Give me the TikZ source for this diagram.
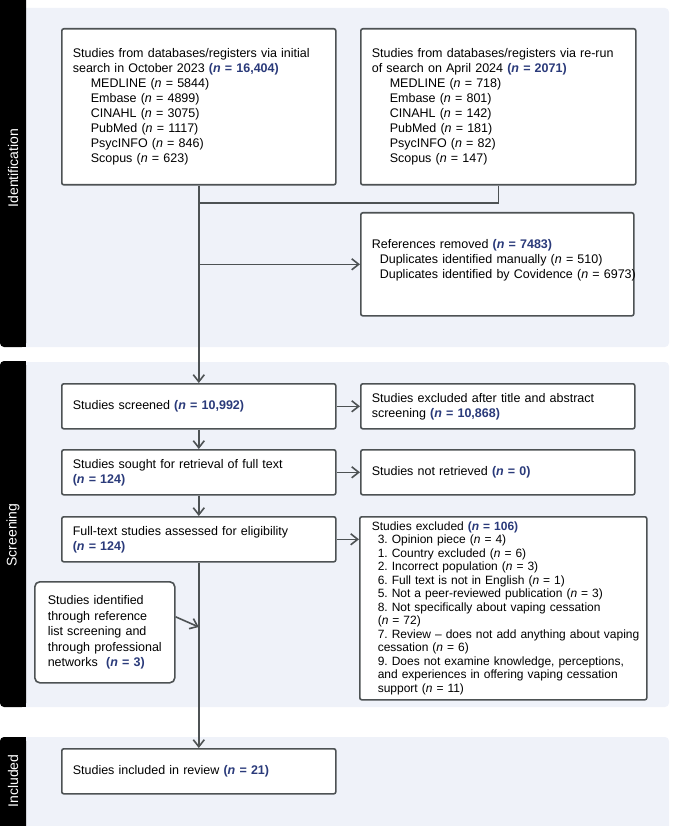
\documentclass[tikz,border=0pt]{standalone}
\usepackage{fontspec}
\setmainfont{Liberation Sans}
\usetikzlibrary{arrows.meta,calc}
\definecolor{panelbg}{RGB}{239,242,249}
\definecolor{edgec}{RGB}{77,82,84}
\definecolor{navy}{RGB}{42,58,122}
\newcommand{\nval}[1]{\textcolor{navy}{\textbf{(\textit{n} = #1)}}}
\newcommand{\nreg}[1]{(\textit{n} = #1)}
\newcommand{\indA}{\hspace*{18pt}}
\newcommand{\indB}{\hspace*{8pt}}
\newcommand{\indC}{\hspace*{6pt}}
\frenchspacing
\begin{document}
\begin{tikzpicture}[x=1pt,y=-1pt,
  box/.style={draw=edgec, line width=1.6pt, rounded corners=2pt, fill=white,
    anchor=north west, inner xsep=0pt, inner ysep=2pt,
    font=\fontsize{12.5}{15}\selectfont\frenchspacing, align=left,
    execute at begin node={\leftskip=11pt}},
  sz/.style 2 args={text width=#1, minimum width=#1, minimum height=#2},
  conn/.style={draw=edgec, line width=1.6pt},
  arr/.style={conn, -{Straight Barb[length=7pt,width=11pt,line width=1.6pt]}},
  sidelab/.style={rotate=90, text=white, font=\fontsize{14}{16}\selectfont}
]
\useasboundingbox (0,0) rectangle (672,826);
% panels
\fill[panelbg, rounded corners=4pt] (18,8) rectangle (669,347);
\fill[panelbg, rounded corners=4pt] (18,362) rectangle (669,707);
\fill[panelbg, rounded corners=4pt] (18,737) rectangle (669,840);
\fill[black, rounded corners=4pt] (0,-10) rectangle (26,347);
\fill[black] (14,-10) rectangle (26,347);
\fill[black, rounded corners=4pt] (0,361) rectangle (26,707);
\fill[black] (14,361) rectangle (26,707);
\fill[black, rounded corners=4pt] (0,737) rectangle (26,840);
\fill[black] (14,737) rectangle (26,840);
\node[sidelab] (labid) at (13,168) {Identification};
\node[sidelab] (labsc) at (13,535) {Screening};
\node[sidelab] (labin) at (13,781) {Included};

% boxes
\node[box, sz={274pt}{156pt}] (id1) at (61,28) {Studies from databases/registers via initial\\
search in October 2023 \nval{16,404}\\
\indA MEDLINE \nreg{5844}\\
\indA Embase \nreg{4899}\\
\indA CINAHL \nreg{3075}\\
\indA PubMed \nreg{1117}\\
\indA PsycINFO \nreg{846}\\
\indA Scopus \nreg{623}};

\node[box, sz={275pt}{156pt}] (id2) at (360,28) {\mbox{Studies from databases/registers via re-run}\\
of search on April 2024 \nval{2071}\\
\indA MEDLINE \nreg{718}\\
\indA Embase \nreg{801}\\
\indA CINAHL \nreg{142}\\
\indA PubMed \nreg{181}\\
\indA PsycINFO \nreg{82}\\
\indA Scopus \nreg{147}};

\node[box, sz={273pt}{103pt}] (refs) at (360,212) {References removed \nval{7483}\\
\indB Duplicates identified manually \nreg{510}\\
\indB \mbox{Duplicates identified by Covidence \nreg{6973}}\\[-4pt]\mbox{}};

\node[box, sz={274pt}{45pt}] (screened) at (61,383) {Studies screened \nval{10,992}};
\node[box, sz={274pt}{45pt}] (exclta) at (360,383) {Studies excluded after title and abstract\\
screening \nval{10,868}};
\node[box, sz={274pt}{45pt}] (sought) at (61,449) {Studies sought for retrieval of full text\\
\nval{124}};
\node[box, sz={274pt}{45pt}] (notret) at (360,449) {Studies not retrieved \nval{0}};
\node[box, sz={274pt}{45pt}] (fulltext) at (61,516) {Full-text studies assessed for eligibility\\
\nval{124}};

\node[box, sz={287pt}{183pt}, font=\fontsize{12}{13.5}\selectfont\frenchspacing,
  execute at begin node={\leftskip=12pt}] (excl) at (359,516) {Studies excluded \nval{106}\\
\indC 3. Opinion piece \nreg{4}\\
\indC 1. Country excluded \nreg{6}\\
\indC 2. Incorrect population \nreg{3}\\
\indC 6. Full text is not in English \nreg{1}\\
\indC 5. Not a peer-reviewed publication \nreg{3}\\
\indC 8. Not specifically about vaping cessation\\
\indC \nreg{72}\\
\indC \mbox{7. Review – does not add anything about vaping}\\
\indC cessation \nreg{6}\\
\indC \mbox{9. Does not examine knowledge, perceptions,}\\
\indC \mbox{and experiences in offering vaping cessation}\\
\indC support \nreg{11}};

\node[box, sz={140pt}{101pt}, rounded corners=5pt, font=\fontsize{12.5}{15.5}\selectfont,
  execute at begin node={\leftskip=13pt}] (other) at (34,581) {Studies identified\\
through reference\\
list screening and\\
through professional\\
networks~ \nval{3}};

\node[box, sz={274pt}{45pt}] (incl) at (61,748) {Studies included in review \nval{21}};

% connectors
\coordinate (yj) at (0,203);
\coordinate (yo) at (0,627);
\draw[conn] (id2.south) -- (id2.south |- yj) -- (id1.south |- yj);
\draw[arr] (id1.south) -- (screened.north);
\draw[arr] (id1.south |- refs.west) -- (refs.west);
\draw[arr] (screened.east) -- (exclta.west);
\draw[arr] (screened.south) -- (sought.north);
\draw[arr] (sought.east) -- (notret.west);
\draw[arr] (sought.south) -- (fulltext.north);
\draw[arr] (fulltext.east) -- (fulltext.east -| excl.west);
\draw[arr] (fulltext.south) -- (incl.north);
\draw[arr] ([yshift=15.5pt]other.east) -- (fulltext.south |- yo);
\end{tikzpicture}
\end{document}
